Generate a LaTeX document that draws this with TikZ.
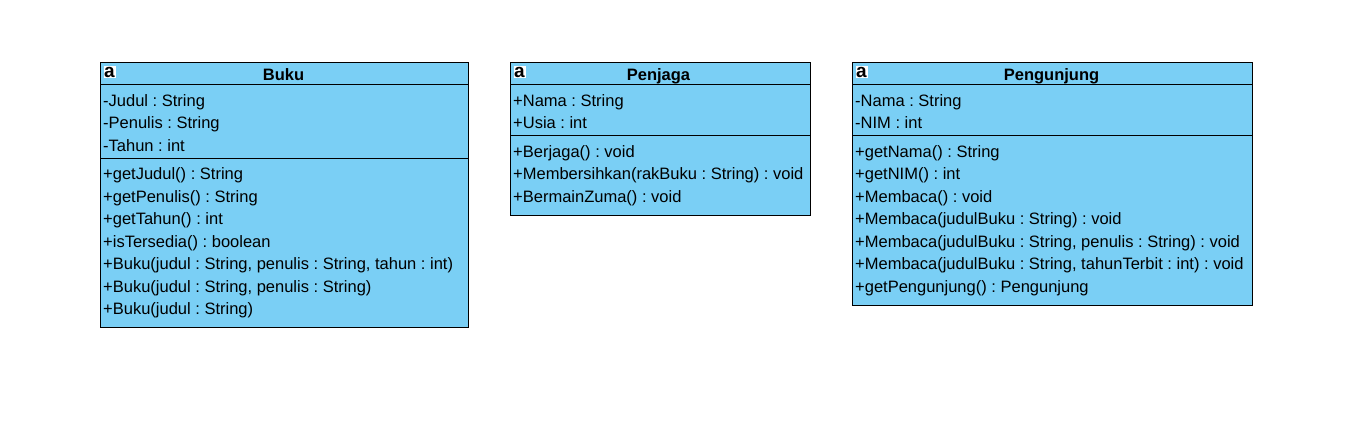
\documentclass[tikz,border=0pt]{standalone}
\usepackage{fontspec}
\setmainfont{Liberation Sans}
\frenchspacing
\definecolor{umlfill}{HTML}{7ACFF5}
\tikzset{
  x=1pt,y=-1pt,
  classbox/.style={draw=black,fill=umlfill,line width=1.4pt,rectangle,inner sep=0pt},
  sepline/.style={draw=black,line width=1.4pt},
  member/.style={anchor=base west,inner sep=0pt,font=\fontsize{16.5}{18}\selectfont},
  classname/.style={anchor=base,inner sep=0pt,font=\fontsize{16.5}{18}\selectfont\bfseries},
  iconbox/.style={fill=white,inner sep=0pt,minimum width=12pt,minimum height=12pt,text height=10.5pt,text depth=0pt,font=\fontsize{19}{19}\selectfont\bfseries},
}
\begin{document}
\begin{tikzpicture}
\useasboundingbox (0,0) rectangle (1361,433);
% Buku
\draw[classbox] (100.5,62.5) rectangle (468.5,327.5);
\draw[sepline] (100.5,84.5) -- (468.5,84.5);
\draw[sepline] (100.5,158.5) -- (468.5,158.5);
\node[iconbox] (ia) at (109.5,72.5) {a};
\node[classname] (t1) at (283.5,80.5) {Buku};
\node[member] (a1) at (103,106.5) {-Judul : String};
\node[member] (a2) at (103,128.5) {-Penulis : String};
\node[member] (a3) at (103,151.5) {-Tahun : int};
\node[member] (a4) at (103,179.5) {+getJudul() : String};
\node[member] (a5) at (103,202.5) {+getPenulis() : String};
\node[member] (a6) at (103,224.5) {+getTahun() : int};
\node[member] (a7) at (103,247.5) {+isTersedia() : boolean};
\node[member] (a8) at (103,269.5) {+Buku(judul : String, penulis : String, tahun : int)};
\node[member] (a9) at (103,292.5) {+Buku(judul : String, penulis : String)};
\node[member] (a10) at (103,314.5) {+Buku(judul : String)};
% Penjaga
\draw[classbox] (510.5,62.5) rectangle (810.5,215.5);
\draw[sepline] (510.5,84.5) -- (810.5,84.5);
\draw[sepline] (510.5,135.5) -- (810.5,135.5);
\node[iconbox] (ib) at (519.5,72.5) {a};
\node[classname] (t2) at (658.5,80.5) {Penjaga};
\node[member] (b1) at (513,106.5) {+Nama : String};
\node[member] (b2) at (513,128.5) {+Usia : int};
\node[member] (b3) at (513,157.5) {+Berjaga() : void};
\node[member] (b4) at (513,179.5) {+Membersihkan(rakBuku : String) : void};
\node[member] (b5) at (513,202.5) {+BermainZuma() : void};
% Pengunjung
\draw[classbox] (852.5,62.5) rectangle (1252.5,305.5);
\draw[sepline] (852.5,84.5) -- (1252.5,84.5);
\draw[sepline] (852.5,135.5) -- (1252.5,135.5);
\node[iconbox] (ic) at (861.5,72.5) {a};
\node[classname] (t3) at (1051.5,80.5) {Pengunjung};
\node[member] (c1) at (855,106.5) {-Nama : String};
\node[member] (c2) at (855,128.5) {-NIM : int};
\node[member] (c3) at (855,157.5) {+getNama() : String};
\node[member] (c4) at (855,179.5) {+getNIM() : int};
\node[member] (c5) at (855,202.5) {+Membaca() : void};
\node[member] (c6) at (855,224.5) {+Membaca(judulBuku : String) : void};
\node[member] (c7) at (855,247.5) {+Membaca(judulBuku : String, penulis : String) : void};
\node[member] (c8) at (855,269.5) {+Membaca(judulBuku : String, tahunTerbit : int) : void};
\node[member] (c9) at (855,292.5) {+getPengunjung() : Pengunjung};
\end{tikzpicture}
\end{document}
